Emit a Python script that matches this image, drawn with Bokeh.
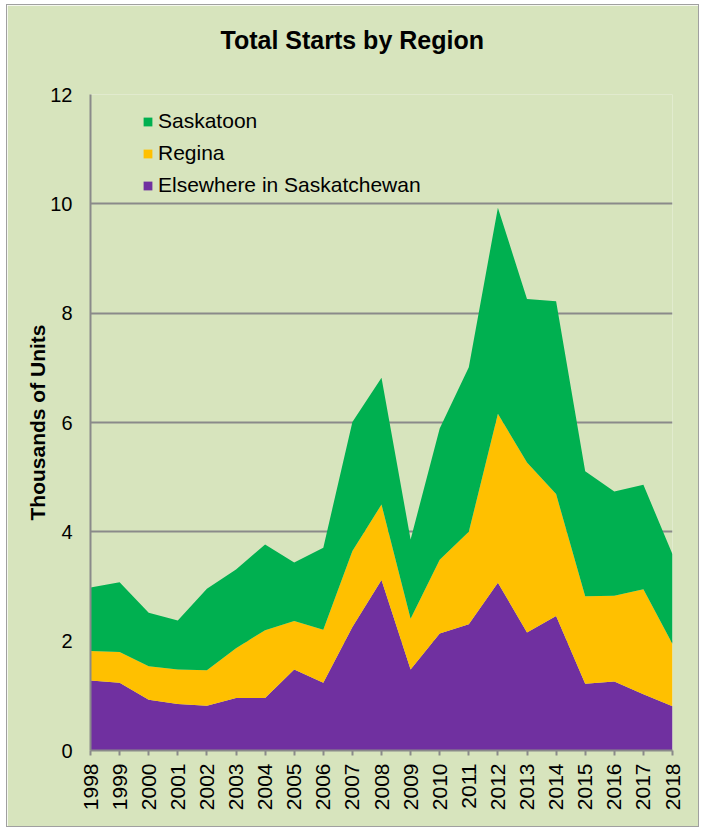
from bokeh.plotting import figure
from bokeh.models import Range1d, FixedTicker, Legend, LegendItem, ColumnDataSource, Title
from bokeh.embed import file_html
from bokeh.resources import INLINE

years = list(range(1998, 2019))
elsewhere = [1.28, 1.24, 0.93, 0.85, 0.82, 0.96, 0.96, 1.48, 1.24, 2.26, 3.12,
             1.48, 2.14, 2.31, 3.07, 2.16, 2.46, 1.22, 1.26, 1.03, 0.81]
regina = [0.54, 0.56, 0.61, 0.63, 0.65, 0.91, 1.24, 0.89, 0.97, 1.39, 1.38,
          0.93, 1.35, 1.69, 3.09, 3.11, 2.23, 1.60, 1.57, 1.92, 1.14]
saskatoon = [1.16, 1.28, 0.98, 0.90, 1.49, 1.44, 1.57, 1.07, 1.50, 2.36, 2.32,
             1.45, 2.40, 3.01, 3.77, 2.99, 3.53, 2.29, 1.91, 1.91, 1.64]
series_names = ["Elsewhere in Saskatchewan", "Regina", "Saskatoon"]
colors = ["#7030a0", "#ffc000", "#00b050"]
y_ticks = [0, 2, 4, 6, 8, 10, 12]
title_text = "Total Starts by Region"

source = ColumnDataSource(dict(year=years, elsewhere=elsewhere, regina=regina, saskatoon=saskatoon))

BG = "#d7e4bd"
GRID = "#8a8a8a"
FONT = "Liberation Sans"

p = figure(width=693, height=823, output_backend="svg", toolbar_location=None,
           x_range=Range1d(1998, 2018), y_range=Range1d(0, 12),
           min_border_left=83, min_border_right=28, min_border_top=89, min_border_bottom=78,
           background_fill_color=BG, border_fill_color=BG)
p.outline_line_color = None
p.styles = {"border": "1px solid #a0a0a0", "margin": "4px 0 0 6px"}

# spacer between frame and title, then the title itself (farther from the frame)
p.add_layout(Title(text=" ", text_font_size="10px", standoff=28), "above")
p.add_layout(Title(text=title_text, align="left", offset=130, standoff=0,
                   text_font=FONT, text_font_size="25px", text_font_style="bold",
                   text_color="black"), "above")

renderers = p.varea_stack(["elsewhere", "regina", "saskatoon"], x="year", color=colors, source=source)

p.xaxis.ticker = FixedTicker(ticks=years)
p.yaxis.ticker = FixedTicker(ticks=y_ticks)
p.xaxis.major_label_orientation = 1.5707963
for ax in (p.xaxis, p.yaxis):
    ax.axis_line_color = GRID
    ax.axis_line_width = 2
    ax.major_tick_line_color = GRID
    ax.major_tick_line_width = 2
    ax.minor_tick_line_color = None
    ax.major_label_text_font = FONT
    ax.major_label_text_color = "black"
p.xaxis.major_label_text_font_size = "21px"
p.yaxis.major_label_text_font_size = "20px"
p.xaxis.major_tick_in = 0
p.xaxis.major_tick_out = 5
p.xaxis.major_label_standoff = 8
p.yaxis.major_tick_in = 0
p.yaxis.major_tick_out = 0
p.yaxis.major_label_standoff = 18
p.yaxis.axis_label = "Thousands of Units"
p.yaxis.axis_label_text_font = FONT
p.yaxis.axis_label_text_font_size = "21px"
p.yaxis.axis_label_text_font_style = "bold"
p.yaxis.axis_label_text_color = "black"
p.yaxis.axis_label_standoff = -2

p.xgrid.grid_line_color = None
p.ygrid.grid_line_color = GRID
p.ygrid.grid_line_width = 2

items = [LegendItem(label=series_names[i], renderers=[renderers[i]]) for i in (2, 1, 0)]
legend = Legend(items=items, location=(52, 553), background_fill_alpha=0, border_line_color=None,
                padding=0, margin=0, spacing=8, glyph_width=11, glyph_height=11,
                label_height=20, label_standoff=5, label_text_font=FONT,
                label_text_font_size="21px", label_text_color="black")
p.add_layout(legend)

open("out.html", "w").write(file_html(p, INLINE))
